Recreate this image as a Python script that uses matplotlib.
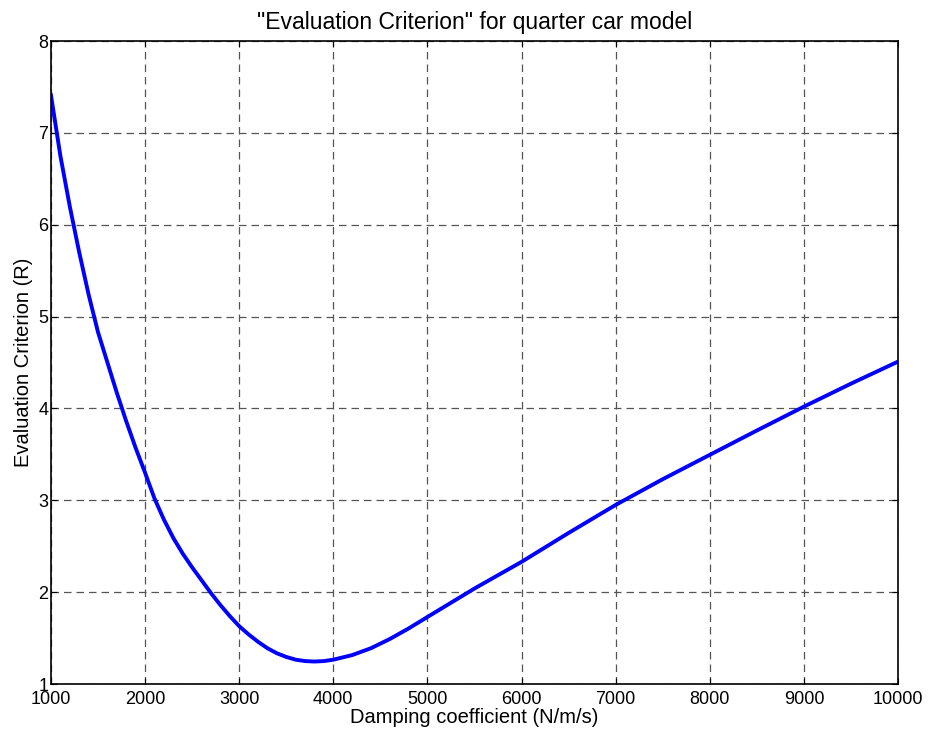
import matplotlib.pyplot as plt

plt.rcParams['font.family'] = ['Liberation Sans', 'DejaVu Sans']

# damping coefficient (N/m/s) vs evaluation criterion R
damping = [1000, 1100, 1200, 1300, 1400, 1500, 1600, 1700, 1800, 1900,
           2000, 2100, 2200, 2300, 2400, 2500, 2600, 2700, 2800, 2900,
           3000, 3100, 3200, 3300, 3400, 3500, 3600, 3700, 3800, 3900,
           4000, 4200, 4400, 4600, 4800, 5000, 5250, 5500, 5750, 6000,
           6500, 7000, 7500, 8000, 8500, 9000, 9500, 10000]
criterion = [7.41, 6.75, 6.20, 5.70, 5.24, 4.83, 4.50, 4.17, 3.86, 3.57,
             3.30, 3.02, 2.79, 2.59, 2.42, 2.27, 2.13, 1.99, 1.86, 1.74,
             1.63, 1.54, 1.46, 1.39, 1.335, 1.295, 1.265, 1.25, 1.245, 1.25,
             1.265, 1.315, 1.39, 1.49, 1.605, 1.73, 1.885, 2.04, 2.185, 2.33,
             2.645, 2.95, 3.23, 3.495, 3.76, 4.02, 4.27, 4.51]

x_ticks = list(range(1000, 10001, 1000))
y_ticks = list(range(1, 9))

fig = plt.figure(figsize=(9.3, 7.33), dpi=100)
ax = fig.add_axes([0.0548, 0.0668, 0.9108, 0.8772])

ax.plot(damping, criterion, color='#0000ff', lw=2.8, solid_joinstyle='round')

ax.set_xlim(1000, 10000)
ax.set_ylim(1, 8)
ax.set_xticks(x_ticks)
ax.set_yticks(y_ticks)
ax.tick_params(direction='in', top=True, right=True, length=4, width=0.8,
               labelsize=13)
ax.tick_params(axis='x', pad=5)
ax.tick_params(axis='y', pad=2)
ax.grid(True, color='#555555', linestyle=(0, (6, 4)), linewidth=0.9)
for s in ax.spines.values():
    s.set_linewidth(1.2)

ax.set_title('"Evaluation Criterion" for quarter car model', fontsize=16.5, pad=9)
ax.set_xlabel('Damping coefficient (N/m/s)', fontsize=14.5, labelpad=0)
ax.set_ylabel('Evaluation Criterion (R)', fontsize=14.5, labelpad=4)

fig.savefig('out.png', dpi=100)
